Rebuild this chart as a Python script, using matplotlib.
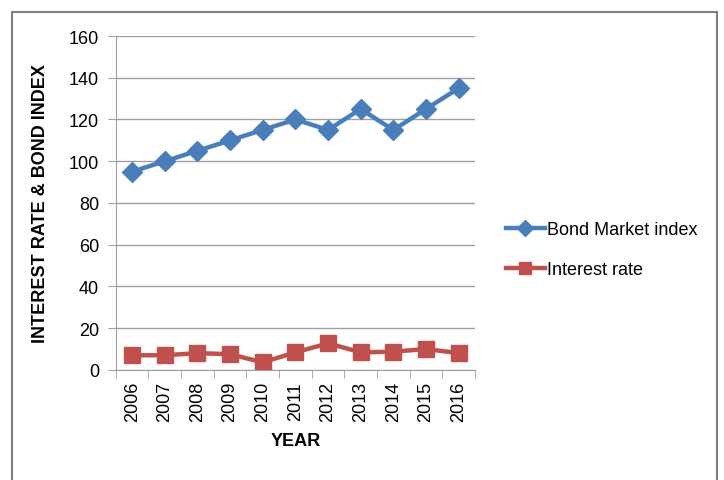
import matplotlib.pyplot as plt
from matplotlib.patches import Rectangle

years = ["2006", "2007", "2008", "2009", "2010", "2011", "2012", "2013", "2014", "2015", "2016"]
bond_index = [95, 100, 105, 110, 115, 120, 115, 125, 115, 125, 135]
interest_rate = [7, 7, 8, 7.5, 3.6, 8.4, 12.7, 8.4, 8.7, 10, 8]

plt.rcParams["font.family"] = ["Liberation Sans Narrow", "Liberation Sans", "DejaVu Sans"]

fig = plt.figure(figsize=(7.24, 4.81), dpi=100)
ax = fig.add_axes([0.160, 0.229, 0.496, 0.694])

x = list(range(len(years)))
ax.plot(x, bond_index, color="#4a7ebb", linewidth=3.2, marker="D",
        markersize=10, label="Bond Market index")
ax.plot(x, interest_rate, color="#c0504d", linewidth=3.2, marker="s",
        markersize=11, label="Interest rate")

ax.set_xlim(-0.5, len(years) - 0.5)
ax.set_ylim(0, 160)
ax.set_yticks(range(0, 161, 20))
ax.yaxis.grid(True, color="#a0a0a0", linewidth=1)
ax.set_axisbelow(True)

ax.set_xticks(x)
ax.set_xticklabels(years, rotation=90, fontsize=13)
ax.set_xticks([i - 0.5 for i in range(len(years) + 1)], minor=True)
ax.tick_params(axis="x", which="major", length=0, pad=8)
ax.tick_params(axis="x", which="minor", length=6, color="#a0a0a0")
ax.tick_params(axis="y", length=6, color="#a0a0a0", labelsize=13, pad=6)

for side in ["top", "right"]:
    ax.spines[side].set_visible(False)
for side in ["left", "bottom"]:
    ax.spines[side].set_color("#a0a0a0")

ax.set_xlabel("YEAR", fontsize=13, fontweight="bold", labelpad=8)
ax.set_ylabel("INTEREST RATE & BOND INDEX", fontsize=13, fontweight="bold", labelpad=14)

ax.legend(loc="center left", bbox_to_anchor=(1.04, 0.36), frameon=False,
          fontsize=13, handlelength=2.2, handletextpad=0.1, labelspacing=1.3,
          markerscale=0.8)

fig.patches.append(Rectangle((0.016, -0.1), 0.975, 1.072, transform=fig.transFigure,
                             fill=False, edgecolor="#808080", linewidth=1.5))

fig.savefig("out.png", dpi=100)
